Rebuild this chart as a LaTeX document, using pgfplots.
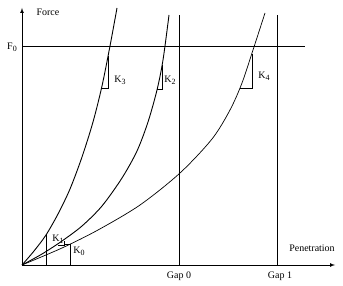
\documentclass[border=0pt]{standalone}
\usepackage{pgfplots}
\pgfplotsset{compat=1.18}
\usepackage{fontspec}
\setmainfont{Liberation Serif}
\newcommand{\sub}[1]{\raisebox{-0.35ex}{\fontsize{8}{8}\selectfont #1}}
\begin{document}
\begin{tikzpicture}
\begin{axis}[
  x=1bp, y=1bp,
  xmin=-22, xmax=321, ymin=-21, ymax=265,
  hide axis, clip=false,
  every node/.style={font=\fontsize{11.3}{13}\selectfont, inner sep=0pt},
]
% bounding box helper
\addplot[draw=none] coordinates {(-22,-21) (321,265)};
% axes
\addplot[black, line width=0.7pt, -latex] coordinates {(0,0) (313,0)};
\addplot[black, line width=0.7pt, -latex] coordinates {(0,0) (0,257)};
% F0 line
\addplot[black, line width=0.6pt] coordinates {(0,219) (283,219)};
% Gap lines
\addplot[black, line width=0.6pt] coordinates {(157,0) (157,250)};
\addplot[black, line width=0.6pt] coordinates {(255,0) (255,250)};
% K3 curve
\addplot[black, line width=0.9pt, smooth] coordinates {
(0,0) (12,14) (24,30) (36,51) (48,76) (60,108) (71,143) (80,179) (88,219) (95,257)};
% K2 curve
\addplot[black, line width=0.9pt, smooth] coordinates {
(0,0) (20,11) (40,24) (60,39) (80,59) (100,87) (115,114) (126,143) (135,175) (141,205) (147,250)};
% K4 curve
\addplot[black, line width=0.7pt, smooth] coordinates {
(0,0) (40,17) (76,35) (118,60) (158,92) (190,126) (208,155) (220,182) (231,215) (243,252)};
% slope triangles
\addplot[black, line width=0.5pt] coordinates {(80,177) (86,177) (86,209)};
\addplot[black, line width=0.5pt] coordinates {(135,176) (140,176) (140,200)};
\addplot[black, line width=0.5pt] coordinates {(218,177) (230,177) (230,211)};
\addplot[black, line width=0.5pt] coordinates {(24,0) (24,31)};
\addplot[black, line width=0.5pt] coordinates {(36,20) (42,20) (42,24)};
\addplot[black, line width=0.5pt] coordinates {(42,21) (48,21) (48,0)};
% labels
\node[anchor=west] at (axis cs:11,253) {Force};
\node at (axis cs:-10,218) {F\sub{0}};
\node at (axis cs:290,17) {Penetration};
\node at (axis cs:157,-11) {Gap 0};
\node at (axis cs:258,-11) {Gap 1};
\node at (axis cs:98,185) {K\sub{3}};
\node at (axis cs:148,185) {K\sub{2}};
\node at (axis cs:242,189) {K\sub{4}};
\node at (axis cs:36,26) {K\sub{1}};
\node at (axis cs:57,14) {K\sub{0}};
\end{axis}
\end{tikzpicture}
\end{document}
